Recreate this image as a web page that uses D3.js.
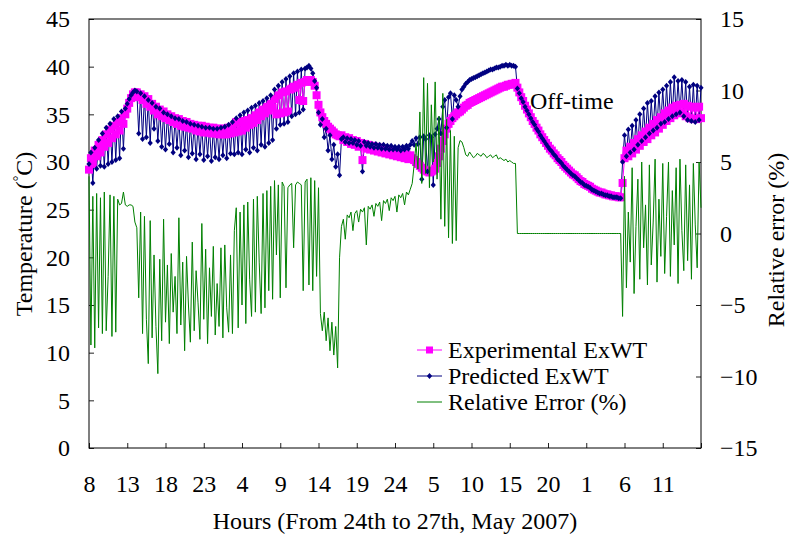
<!DOCTYPE html>
<html>
<head>
<meta charset="utf-8">
<script src="https://cdn.jsdelivr.net/npm/d3@7"></script>
<style>
  html, body { margin: 0; padding: 0; background: #fff; }
  svg { display: block; }
  text { font-family: "Liberation Serif", "Times New Roman", serif; fill: #000; }
</style>
</head>
<body>
<svg id="chart" width="789" height="538"></svg>
<script>
// Readings are logged every quarter hour, starting 08:00 on 24 May 2007.
const STEP = 0.25;

// Hour-of-day labels under each 5-hour tick (last tick unlabelled).
const xTickLabels = ["8","13","18","23","4","9","14","19","24","5","10","15","20","1","6","11",""];
const yLeftTicks = [0,5,10,15,20,25,30,35,40,45];
const yRightTicks = [-15,-10,-5,0,5,10,15];

// Experimental exhaust water temperature (°C)
const experimental = [
  29.2,30.4,29.8,31.2,30.6,31.8,31.0,32.3,31.6,32.9,32.0,33.4,32.5,33.8,32.9,34.2,33.3,34.6,34.0,35.0,35.6,36.2,36.7,37.1,37.3,
  37.3,36.8,37.1,36.5,36.9,36.1,36.6,35.8,36.1,35.4,35.8,35.0,35.5,34.8,35.3,34.6,35.0,34.4,34.8,34.2,
  34.6,34.0,34.5,33.8,34.3,33.7,34.2,33.6,34.0,33.5,33.9,33.3,33.8,33.2,33.8,33.1,33.7,33.1,33.6,33.0,
  33.6,33.0,33.5,32.9,33.5,32.9,33.5,32.9,33.6,33.0,33.7,33.1,
  34.2,33.2,34.1,33.3,34.3,33.6,34.4,33.9,34.6,34.1,34.9,34.4,35.2,34.8,35.5,35.1,35.8,35.4,36.1,35.7,36.6,35.0,37.0,35.1,37.3,
  35.2,37.4,35.3,37.6,37.7,37.9,37.8,38.1,36.5,38.3,36.4,38.4,38.6,38.5,38.6,38.4,38.0,
  37.0,36.0,35.2,34.7,34.3,34.0,33.7,33.5,33.3,33.1,32.9,32.8,32.7,
  32.8,32.3,32.6,32.1,32.5,31.9,32.3,31.8,32.2,31.6,32.0,30.2,31.9,31.4,31.8,31.3,31.7,31.2,31.6,31.1,
  31.5,31.0,31.4,30.9,31.3,30.8,31.2,30.7,31.1,30.6,31.0,30.5,30.9,30.4,30.8,30.3,30.7,
  30.4,30.2,30.0,29.8,29.6,29.4,29.2,29.1,29.0,28.9,29.0,29.1,29.3,29.9,30.6,31.4,32.2,32.9,33.5,34.0,34.3,34.6,34.8,35.0,35.2,35.3,
  35.5,35.7,35.9,36.0,36.2,36.3,36.4,36.5,36.6,36.7,36.8,36.9,37.0,37.1,37.2,37.3,37.4,37.5,37.6,37.7,37.8,37.9,37.9,38.0,38.1,
  38.1,38.2,38.2,38.3,
  37.8,37.3,36.8,36.4,35.9,35.5,35.1,34.7,34.3,34.0,33.6,33.3,32.9,32.6,32.3,32.0,31.7,31.4,31.2,30.9,
  30.7,30.4,30.2,30.0,29.7,29.5,29.3,29.1,28.9,28.7,28.6,28.4,28.2,28.0,27.9,27.7,27.6,27.5,27.4,27.2,
  27.1,27.0,26.9,26.8,26.8,26.7,26.6,26.6,26.5,26.5,26.4,26.4,26.4,26.3,26.3,
  27.8,30.4,31.2,30.6,31.6,30.9,32.0,31.3,32.4,31.7,32.8,32.1,33.2,32.4,33.6,32.8,34.0,33.1,34.4,33.5,34.7,
  33.9,35.1,34.3,35.4,34.6,35.7,34.9,35.9,35.1,36.0,35.2,36.1,34.8,35.9,34.6,35.8,34.5,35.7,34.5,35.8,34.6
];

// Predicted exhaust water temperature (°C)
const predicted = [
  29.8,31.0,27.8,31.5,29.3,32.3,29.6,33.0,29.5,33.6,29.8,34.0,30.0,34.5,30.2,34.8,30.4,35.3,31.4,35.6,36.1,36.6,37.0,37.3,37.5,
  37.4,33.0,37.2,32.4,36.9,32.6,36.5,32.0,36.2,33.5,35.8,32.2,35.6,31.6,35.2,31.3,35.0,31.9,34.8,31.0,34.6,31.5,34.5,30.7,34.3,
  31.2,34.2,30.5,34.0,30.9,33.9,30.3,33.8,30.8,33.7,30.2,33.6,30.6,33.6,30.1,33.5,30.5,33.5,30.3,33.6,30.7,33.7,30.4,33.9,30.9,
  34.2,30.8,
  34.6,31.0,34.9,30.8,35.2,31.3,35.4,31.0,35.7,31.5,35.9,31.2,36.2,31.8,36.4,31.6,36.7,32.0,37.0,32.3,37.6,33.5,38.0,33.9,38.4,
  34.0,38.7,34.2,39.0,34.8,39.3,35.0,39.5,35.2,39.7,35.5,39.8,39.9,40.1,39.8,39.3,38.5,
  37.8,35.2,33.9,34.5,32.6,33.5,31.2,32.8,30.3,31.8,29.5,30.8,28.6,
  32.4,32.6,32.1,32.5,32.0,32.4,32.0,32.3,31.8,32.2,31.7,29.0,32.1,31.7,32.0,31.6,31.9,31.5,31.9,31.5,31.8,31.4,31.8,31.4,31.7,
  31.3,31.7,31.3,31.6,31.3,31.6,31.2,31.6,31.3,31.7,31.4,31.8,
  32.2,31.8,32.5,31.9,32.6,28.2,32.7,32.4,29.0,32.8,32.6,27.6,32.9,33.5,34.5,33.0,35.8,36.5,33.6,36.8,37.2,34.5,37.0,36.5,35.8,36.9,
  37.6,37.9,38.2,38.4,38.6,38.7,38.8,38.9,39.0,39.1,39.2,39.3,39.4,39.5,39.6,39.7,39.7,39.8,39.9,39.9,40.0,40.1,40.1,40.2,40.1,
  40.2,40.1,40.1,40.0,
  37.7,37.2,36.7,36.3,35.8,35.4,35.0,34.6,34.2,33.9,33.5,33.2,32.8,32.5,32.2,31.9,31.6,31.3,31.1,30.8,
  30.6,30.3,30.1,29.9,29.6,29.4,29.2,29.0,28.8,28.6,28.5,28.3,28.1,27.9,27.8,27.6,27.5,27.4,27.3,27.1,
  27.0,26.9,26.8,26.7,26.7,26.6,26.5,26.5,26.4,26.4,26.3,26.3,26.3,26.2,26.2,
  30.0,32.8,30.6,33.4,31.0,33.8,31.3,34.4,31.8,35.0,32.2,35.6,32.6,36.2,33.0,36.4,33.3,36.9,33.6,37.3,34.0,
  37.6,34.2,38.0,34.5,38.4,34.8,38.9,35.0,38.5,35.2,38.6,34.8,38.4,34.4,37.9,34.3,38.1,34.2,38.0,34.4,37.8
];

// Relative error between predicted and experimental values (%)
const relError = [
  4.0,-7.8,2.6,-8.0,2.8,-6.6,2.5,-7.0,2.9,-6.8,-3.0,2.7,-7.2,2.6,-6.9,2.4,2.0,2.1,2.9,2.0,1.9,2.0,2.0,1.9,0.8,
  0.4,-4.5,1.5,-7.0,1.2,-6.0,-9.1,0.9,-7.3,-1.5,-6.5,-9.8,-1.8,-7.5,1.0,-6.2,-2.2,-7.7,-1.4,-5.5,-3.0,-7.0,1.1,-6.4,-2.0,
  -8.2,-1.6,-5.0,-7.6,-0.6,-6.8,-2.6,-4.8,-7.4,0.7,-6.0,-1.1,-7.7,-2.4,-5.8,-0.9,-7.1,-3.5,-6.5,-1.0,-7.3,-0.8,-5.2,-6.9,-1.5,
  -7.0,0.2,
  1.8,-6.6,1.5,-5.0,2.0,-6.3,2.2,-3.2,-5.8,2.4,-5.5,2.6,-2.0,-5.6,2.8,-5.2,3.0,-4.0,3.3,-4.6,3.7,-1.5,3.4,-4.5,3.6,
  3.3,-3.8,3.2,3.4,3.5,-1.0,3.4,3.6,3.5,3.4,-4.0,3.6,3.8,-3.6,3.9,-4.0,3.7,
  -3.0,3.2,-5.6,-6.8,-5.5,-7.5,-5.9,-8.2,-6.2,-8.5,-6.5,-9.4,-1.7,
  0.5,1.0,-0.4,1.3,1.1,1.5,0.2,1.4,1.6,0.8,1.7,1.5,1.8,-0.8,1.9,1.7,2.0,1.2,2.1,1.9,2.2,0.9,2.3,2.1,2.4,
  1.6,2.5,2.3,2.6,1.5,2.7,2.5,2.8,2.0,2.9,2.7,3.1,
  3.5,4.8,6.3,4.5,8.5,3.5,10.9,4.2,10.5,3.2,9.0,5.0,10.6,3.8,8.2,1.0,9.8,0.5,8.0,-0.3,7.2,-0.7,6.8,-0.5,6.0,6.5,
  6.4,6.0,5.5,5.4,5.7,5.5,5.3,5.4,5.6,5.5,5.4,5.6,5.5,5.3,5.4,5.5,5.3,5.4,5.5,5.2,5.3,5.2,5.1,5.2,5.0,
  5.1,5.0,4.9,4.9,
  0,0,0,0,0,0,0,0,0,0,0,0,0,0,0,0,0,0,0,0,
  0,0,0,0,0,0,0,0,0,0,0,0,0,0,0,0,0,0,0,0,
  0,0,0,0,0,0,0,0,0,0,0,0,0,0,0,
  -5.8,4.0,-3.8,1.5,-2.0,4.6,-4.2,0.5,3.8,-3.2,5.0,-1.0,2.0,-3.6,4.8,-2.2,0.8,5.2,-3.4,2.4,-1.6,
  4.9,-2.8,1.2,5.0,-3.0,3.0,-0.8,4.6,-3.5,5.2,0.2,-2.6,4.8,-1.9,3.4,-3.2,4.9,0.6,-2.4,5.0,1.8
];

if (experimental.length !== predicted.length || predicted.length !== relError.length) {
  throw new Error("series lengths: " + experimental.length + " " + predicted.length + " " + relError.length);
}

const svg = d3.select("#chart");
svg.append("rect").attr("width", 789).attr("height", 538).attr("fill", "#fff");

const plot = { left: 89, right: 701, top: 19, bottom: 448 };
const x = d3.scaleLinear().domain([0, 80]).range([plot.left, plot.right]);
const yL = d3.scaleLinear().domain([0, 45]).range([plot.bottom, plot.top]);
const yR = d3.scaleLinear().domain([-15, 15]).range([plot.bottom, plot.top]);

const FONT = 24;
const PINK = "#FF00FF", NAVY = "#000080", GREEN = "#008000";

function styleAxis(g) {
  g.select(".domain").remove();
  g.selectAll(".tick line").attr("stroke", "#222").attr("stroke-width", 1);
  g.selectAll(".tick text").attr("font-size", FONT).attr("font-family", "Liberation Serif, serif").attr("fill", "#000");
}

svg.append("g")
  .attr("transform", `translate(${plot.left},0)`)
  .call(d3.axisLeft(yL).tickValues(yLeftTicks).tickSize(-5).tickPadding(19))
  .call(styleAxis);

svg.append("g")
  .attr("transform", `translate(${plot.right},0)`)
  .call(d3.axisRight(yR).tickValues(yRightTicks).tickSize(-5).tickPadding(19))
  .call(styleAxis);

svg.append("g")
  .attr("transform", `translate(0,${plot.bottom})`)
  .call(d3.axisBottom(x).tickValues(d3.range(0, 81, 5)).tickFormat((d, i) => xTickLabels[i]).tickSize(-5).tickPadding(27))
  .call(styleAxis);

// plot frame
svg.append("rect")
  .attr("x", plot.left).attr("y", plot.top)
  .attr("width", plot.right - plot.left).attr("height", plot.bottom - plot.top)
  .attr("fill", "none").attr("stroke", "#000").attr("stroke-width", 1);

const hourOf = i => i * STEP;
const lineL = d3.line().x((d, i) => x(hourOf(i))).y(d => yL(d));
const lineR = d3.line().x((d, i) => x(hourOf(i))).y(d => yR(d));
const diamond = "M0,-3L2.6,0L0,3L-2.6,0Z";

// Predicted connecting line sits under the experimental band
svg.append("path").datum(predicted)
  .attr("d", lineL).attr("fill", "none").attr("stroke", NAVY).attr("stroke-width", 1);

// Experimental series: magenta line with square markers
svg.append("path").datum(experimental)
  .attr("d", lineL).attr("fill", "none").attr("stroke", PINK).attr("stroke-width", 1);
svg.append("g").selectAll("rect").data(experimental).join("rect")
  .attr("x", (d, i) => x(hourOf(i)) - 4).attr("y", d => yL(d) - 4)
  .attr("width", 8).attr("height", 8).attr("fill", PINK);

// Predicted markers on top
svg.append("g").selectAll("path").data(predicted).join("path")
  .attr("d", diamond)
  .attr("transform", (d, i) => `translate(${x(hourOf(i))},${yL(d)})`)
  .attr("fill", NAVY);

// Relative error on the secondary axis
svg.append("path").datum(relError)
  .attr("d", lineR).attr("fill", "none").attr("stroke", GREEN).attr("stroke-width", 1);

// Axis titles
svg.append("text").attr("x", 395).attr("y", 529).attr("text-anchor", "middle")
  .attr("font-size", FONT).text("Hours (From 24th to 27th, May 2007)");

const leftTitle = svg.append("text")
  .attr("transform", "translate(32,234) rotate(-90)")
  .attr("text-anchor", "middle").attr("font-size", FONT);
leftTitle.append("tspan").text("Temperature (");
leftTitle.append("tspan").attr("font-size", 14).attr("dy", -9).text("°");
leftTitle.append("tspan").attr("dy", 9).text("C)");

svg.append("text")
  .attr("transform", "translate(784,240) rotate(-90)")
  .attr("text-anchor", "middle").attr("font-size", FONT).text("Relative error (%)");

svg.append("text").attr("x", 530).attr("y", 109).attr("font-size", FONT).text("Off-time");

// Legend
const legendItems = [
  { name: "Experimental ExWT", color: PINK, marker: "square" },
  { name: "Predicted ExWT", color: NAVY, marker: "diamond" },
  { name: "Relative Error (%)", color: GREEN, marker: null }
];
const legend = svg.append("g").attr("transform", "translate(417,350)");
legendItems.forEach((it, k) => {
  const g = legend.append("g").attr("transform", `translate(0,${k * 26})`);
  g.append("line").attr("x1", 0).attr("x2", 25).attr("y1", 0).attr("y2", 0)
    .attr("stroke", it.color).attr("stroke-width", 1);
  if (it.marker === "square") {
    g.append("rect").attr("x", 9).attr("y", -3.5).attr("width", 7).attr("height", 7).attr("fill", it.color);
  } else if (it.marker === "diamond") {
    g.append("path").attr("d", diamond).attr("transform", "translate(12.5,0)").attr("fill", it.color);
  }
  g.append("text").attr("x", 31).attr("y", 8).attr("font-size", FONT).text(it.name);
});
</script>
</body>
</html>
